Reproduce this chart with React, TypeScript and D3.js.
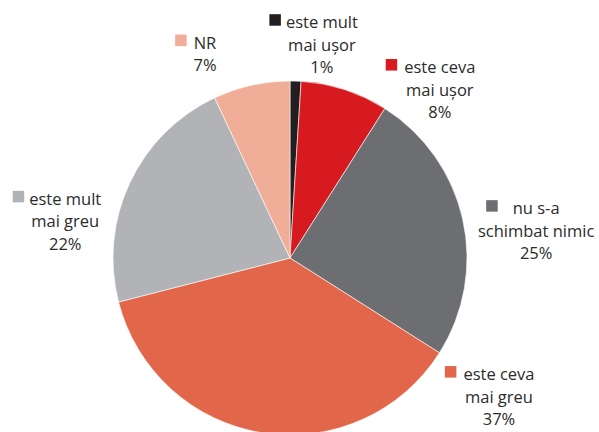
import { useEffect, useRef } from 'react'
import * as d3 from 'd3'

// slices, clockwise from 12 o'clock
const categories = ['este mult mai ușor', 'este ceva mai ușor', 'nu s-a schimbat nimic', 'este ceva mai greu', 'este mult mai greu', 'NR']
const values = [1, 8, 25, 37, 22, 7]
const labelLines = [
  ['este mult', 'mai ușor'],
  ['este ceva', 'mai ușor'],
  ['nu s-a', 'schimbat nimic'],
  ['este ceva', 'mai greu'],
  ['este mult', 'mai greu'],
  ['NR'],
]
const colors = ['#231f20', '#d71920', '#6d6e71', '#e2674a', '#b1b3b6', '#f0ad97']

// label anchor (polar around the pie centre: degrees clockwise from top, radius)
const labelAngle = [7.9, 39.0, 79.9, 120.3, 283.3, 337.9]
const labelRadius = [232, 238, 250, 242, 231, 226]
const keyGap = [5, 7, 15, 7, 5, 7]

const W = 599
const H = 432

export default function App() {
  const svgRef = useRef<SVGSVGElement>(null)

  useEffect(() => {
    if (!svgRef.current) return
    const svg = d3.select(svgRef.current)
    svg.selectAll('*').remove()

    const cx = 290
    const cy = 258
    const radius = 177
    const lineH = 22.5

    const pie = d3.pie<number>().sort(null).value(d => d)
    const arcs = pie(values)
    const arc = d3.arc<d3.PieArcDatum<number>>().innerRadius(0).outerRadius(radius)

    const g = svg.append('g').attr('transform', `translate(${cx},${cy})`)

    g.selectAll('path')
      .data(arcs)
      .join('path')
      .attr('d', arc)
      .attr('fill', (_, i) => colors[i])
      .attr('stroke', '#ffffff')
      .attr('stroke-width', 0.6)

    // Labels
    arcs.forEach((a, i) => {
      const [lx, ly] = d3.pointRadial((labelAngle[i] * Math.PI) / 180, labelRadius[i])
      const lines = [...labelLines[i], `${values[i]}%`]
      const lg = g.append('g').attr('transform', `translate(${lx},${ly})`)

      let firstStart = 0
      lines.forEach((line, j) => {
        const t = lg.append('text')
          .attr('x', 0)
          .attr('y', j * lineH)
          .attr('text-anchor', 'middle')
          .attr('fill', '#2b2b2b')
          .attr('font-size', '16.5px')
          .attr('font-family', '"Open Sans", sans-serif')
          .text(line)
        if (j === 0) {
          const w = (t.node() as SVGTextElement).getComputedTextLength()
          firstStart = -w / 2
        }
      })

      lg.append('rect')
        .attr('x', firstStart - keyGap[i] - 11.5)
        .attr('y', -14)
        .attr('width', 11.5)
        .attr('height', 11.5)
        .attr('fill', colors[i])
    })
  }, [])

  return (
    <svg
      ref={svgRef}
      width={W}
      height={H}
      style={{ position: 'absolute', left: 0, top: 0, background: '#ffffff' }}
      aria-label={categories.join(', ')}
    />
  )
}
